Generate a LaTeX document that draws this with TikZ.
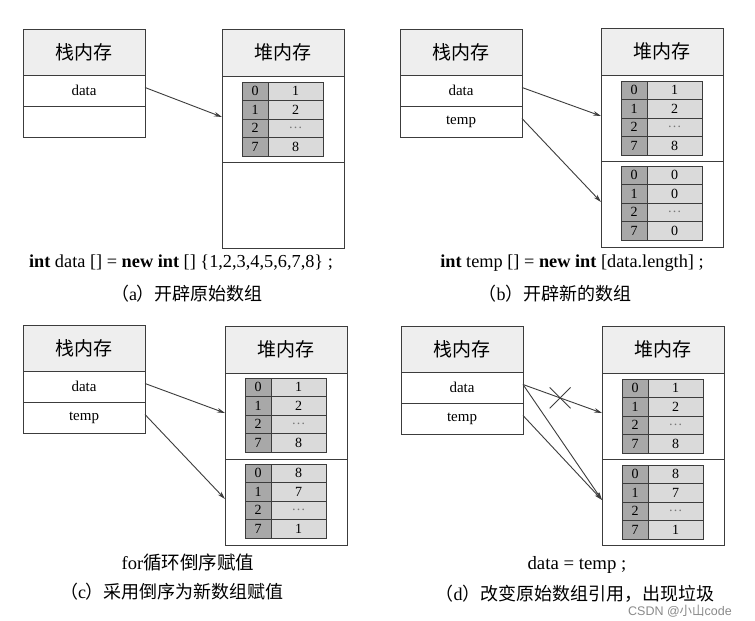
\documentclass[tikz,border=0pt]{standalone}
\usepackage{fontspec}
\setmainfont{Liberation Serif}
\newfontfamily\cjk{Noto Sans CJK SC}
\newfontfamily\wmfont{Liberation Sans}
\usetikzlibrary{arrows.meta,shapes.misc}
\definecolor{linec}{HTML}{3C3C3C}
\definecolor{hdrfill}{HTML}{EEEEEE}
\definecolor{idxfill}{HTML}{A8A8A8}
\definecolor{valfill}{HTML}{DADADA}
\definecolor{wmc}{HTML}{8A8A8A}
\tikzset{
  box/.style={draw=linec, line width=0.8pt, anchor=north west, inner sep=0pt, outer sep=0pt},
  hdr/.style={box, fill=hdrfill, minimum width=122pt, font=\cjk\fontsize{19}{19}\selectfont},
  rowbox/.style={box, fill=white, minimum width=122pt, font=\fontsize{15}{15}\selectfont},
  idx/.style={box, fill=idxfill, minimum width=26pt, minimum height=18.5pt, font=\fontsize{14}{14}\selectfont},
  val/.style={box, fill=valfill, minimum width=55pt, minimum height=18.5pt, font=\fontsize{14}{14}\selectfont},
  ptr/.style={draw=linec, line width=0.9pt, -{Stealth[length=8pt,width=4.5pt]}},
  code/.style={font=\fontsize{18.3}{18.3}\selectfont, inner sep=0pt},
  capt/.style={font=\fontsize{18}{18}\selectfont, inner sep=0pt},
  xmark/.style={cross out, draw=linec, line width=0.8pt, minimum size=20pt, inner sep=0pt},
}
\newcommand\stackmem[5]{%
  \node[hdr, minimum height=46pt] (#1h) at (#2,#3) {栈内存};
  \node[rowbox, minimum height=31pt] (#1a) at (#1h.south west) {#4};
  \node[rowbox, minimum height=31pt] (#1b) at (#1a.south west) {#5};
}
\newcommand\heapmem[3]{%
  \node[hdr, minimum height=47pt] (#1h) at (#2,#3) {堆内存};
  \node[rowbox, minimum height=86pt] (#1s) at (#1h.south west) {};
  \node[rowbox, minimum height=86pt] (#1t) at (#1s.south west) {};
}
\newcommand\arr[7]{%
  \node[idx] (#1i0) at (#2,#3) {0};
  \node[val] (#1v0) at (#1i0.north east) {#4};
  \node[idx] (#1i1) at (#1i0.south west) {1};
  \node[val] (#1v1) at (#1i1.north east) {#5};
  \node[idx] (#1i2) at (#1i1.south west) {2};
  \node[val] (#1v2) at (#1i2.north east) {#6};
  \node[idx] (#1i3) at (#1i2.south west) {7};
  \node[val] (#1v3) at (#1i3.north east) {#7};
}
\newcommand\dts{{\color{linec!70}\dots}}
\begin{document}
\begin{tikzpicture}[x=1pt,y=-1pt]
\useasboundingbox (0,0) rectangle (755,621);
\fill[white] (0,0) rectangle (755,621);

% ---------- (a)
\stackmem{as}{23}{29}{data}{}
\heapmem{ah}{222}{29}
\arr{aa}{242}{82}{1}{2}{\dts}{8}
\coordinate (aP1) at ([yshift=-41pt]ahs.north west);
\draw[ptr] ([yshift=3pt]asa.east) -- (aP1);
\node[code] (acode) at (181,263) {\textbf{int} data [] = \textbf{new int} [] \{1,2,3,4,5,6,7,8\} ;};
\node[capt] (acap) at (187,294) {{\cjk （}a{\cjk ）开辟原始数组}};

% ---------- (b)
\stackmem{bs}{400}{29}{data}{temp}
\heapmem{bh}{601}{28}
\arr{ba}{621}{81}{1}{2}{\dts}{8}
\arr{bb}{621}{166}{0}{0}{\dts}{0}
\coordinate (bP1) at ([yshift=-41pt]bhs.north west);
\coordinate (bP2) at ([yshift=-41pt]bht.north west);
\draw[ptr] ([yshift=3pt]bsa.east) -- (bP1);
\draw[ptr] ([yshift=3pt]bsb.east) -- (bP2);
\node[code] (bcode) at (572,263) {\textbf{int} temp [] = \textbf{new int} [data.length] ;};
\node[capt] (bcap) at (555,294) {{\cjk （}b{\cjk ）开辟新的数组}};

% ---------- (c)
\stackmem{cs}{23}{325}{data}{temp}
\heapmem{ch}{225}{326}
\arr{ca}{245}{378}{1}{2}{\dts}{8}
\arr{cb}{245}{464}{8}{7}{\dts}{1}
\coordinate (cP1) at ([yshift=-40pt]chs.north west);
\coordinate (cP2) at ([yshift=-40pt]cht.north west);
\draw[ptr] ([yshift=3pt]csa.east) -- (cP1);
\draw[ptr] ([yshift=3pt]csb.east) -- (cP2);
\node[capt, font=\fontsize{18.5}{18.5}\selectfont] (cfor) at (188,562) {for{\cjk 循环倒序赋值}};
\node[capt] (ccap) at (172,592) {{\cjk （}c{\cjk ）采用倒序为新数组赋值}};

% ---------- (d)
\stackmem{ds}{401}{326}{data}{temp}
\heapmem{dh}{602}{326}
\arr{da}{622}{379}{1}{2}{\dts}{8}
\arr{db}{622}{465}{8}{7}{\dts}{1}
\coordinate (dP1) at ([yshift=-40pt]dhs.north west);
\coordinate (dP2) at ([yshift=-41pt]dht.north west);
\draw[ptr] ([yshift=3pt]dsa.east) -- node[xmark, pos=0.47] (dx) {} (dP1);
\draw[ptr] ([yshift=3pt]dsa.east) -- (dP2);
\draw[ptr] ([yshift=3pt]dsb.east) -- (dP2);
\node[code, font=\fontsize{18.8}{18.8}\selectfont] (dcode) at (577,565) {data = temp ;};
\node[capt] (dcap) at (575,594) {{\cjk （}d{\cjk ）改变原始数组引用，出现垃圾}};

\node[font=\wmfont\fontsize{12.5}{12.5}\selectfont, text=wmc, inner sep=0pt] (wm) at (680,611) {CSDN @{\cjk 小山}code};
\end{tikzpicture}
\end{document}
